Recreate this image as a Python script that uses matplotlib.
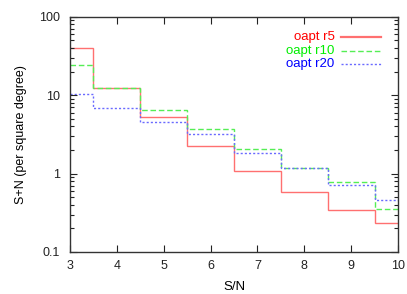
import numpy as np
import matplotlib
matplotlib.use("Agg")
import matplotlib.pyplot as plt
from matplotlib.ticker import LogLocator, FixedLocator, NullFormatter

sn = np.array([3, 4, 5, 6, 7, 8, 9, 10])
r5 = [40, 12.5, 5.2, 2.25, 1.09, 0.58, 0.345, 0.231]
r10 = [24.5, 12.5, 6.5, 3.7, 2.05, 1.17, 0.77, 0.35]
r20 = [10.3, 6.9, 4.5, 3.2, 1.82, 1.17, 0.72, 0.46]
labels = ["oapt r5", "oapt r10", "oapt r20"]
xticks = [3, 4, 5, 6, 7, 8, 9, 10]
yticks = [0.1, 1, 10, 100]
ytick_labels = ["0.1", "1", "10", "100"]

plt.rcParams['font.family'] = ['Liberation Sans', 'DejaVu Sans']
fig = plt.figure(figsize=(4.07, 2.94), dpi=100)
ax = fig.add_axes([0.172, 0.143, 0.806, 0.800])

edges = np.concatenate([[sn[0]], (sn[:-1] + sn[1:]) / 2, [sn[-1]]])
line_colors = ['#ff7070', '#55ee55', '#6a6aff']
text_colors = ['#ff0000', '#00ee00', '#0000ff']
styles = ['-', (0, (4, 2)), (0, (1.5, 1.5))]
series = [r5, r10, r20]
for vals, c, ls in zip(series, line_colors, styles):
    ax.stairs(vals, edges, color=c, linestyle=ls, linewidth=1.0, baseline=None)

ax.set_yscale('log')
ax.set_xlim(3, 10)
ax.set_ylim(0.1, 100)
ax.xaxis.set_major_locator(FixedLocator(xticks))
ax.set_xticklabels([str(t) for t in xticks])
ax.yaxis.set_major_locator(FixedLocator(yticks))
ax.set_yticklabels(ytick_labels)
ax.yaxis.set_minor_locator(LogLocator(base=10, subs=np.arange(2, 10)))
ax.yaxis.set_minor_formatter(NullFormatter())
ax.tick_params(which='both', direction='in', top=True, right=True,
               labelsize=9, colors='#222222', width=0.8)
ax.tick_params(which='major', length=5)
ax.tick_params(which='minor', length=3)
ax.tick_params(axis='x', pad=6)
ax.tick_params(axis='y', pad=7)
for s in ax.spines.values():
    s.set_linewidth(1.0)
    s.set_color('#333333')

ax.set_xlabel('S/N', fontsize=9.5)
ax.set_ylabel('S+N (per square degree)', fontsize=9)
ax.xaxis.set_label_coords(0.5, -0.125)
ax.yaxis.set_label_coords(-0.131, 0.5)

# legend, gnuplot style: right-aligned text then sample line
ys = [0.912, 0.855, 0.799]
for lab, tc, lc, ls, yy in zip(labels, text_colors, line_colors, styles, ys):
    ax.text(0.806, yy, lab, transform=ax.transAxes, ha='right', va='center',
            color=tc, fontsize=9.5)
    ax.plot([0.826, 0.948], [yy, yy], transform=ax.transAxes, color=lc,
            linestyle=ls, linewidth=1.0 if ls != '-' else 1.6)

fig.savefig('out.png', dpi=100)
